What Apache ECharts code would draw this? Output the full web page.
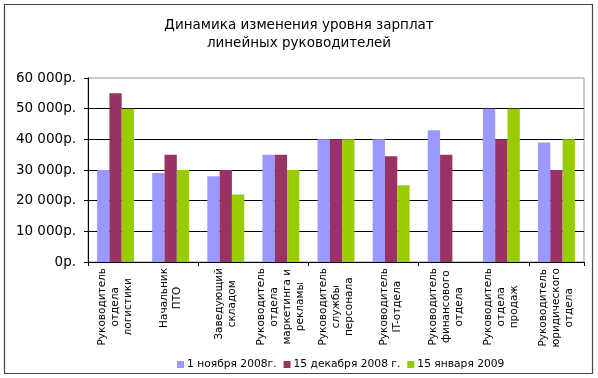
<!DOCTYPE html>
<html><head><meta charset="utf-8">
<script src="https://cdn.jsdelivr.net/npm/echarts@6/dist/echarts.min.js"></script>
<style>html,body{margin:0;padding:0;background:#fff}#c{width:598px;height:378px}</style>
</head><body><div id="c"></div>
<script>
const categories = [
  "Руководитель\nотдела\nлогистики",
  "Начальник\nПТО",
  "Заведующий\nскладом",
  "Руководитель\nотдела\nмаркетинга и\nрекламы",
  "Руководитель\nслужбы\nперсонала",
  "Руководитель\nIT-отдела",
  "Руководитель\nфинансового\nотдела",
  "Руководитель\nотдела\nпродаж",
  "Руководитель\nюридического\nотдела"
];
const seriesNames = ["1 ноября 2008г.", "15 декабря 2008 г.", "15 января 2009"];
const nov2008 = [30000, 29000, 28000, 35000, 40000, 40000, 43000, 50000, 39000];
const dec2008 = [55000, 35000, 30000, 35000, 40000, 34500, 35000, 40000, 30000];
const jan2009 = [50000, 30000, 22000, 30000, 40000, 25000, null, 50000, 40000];
const yTickValues = [0, 10000, 20000, 30000, 40000, 50000, 60000];
const colors = ["#9999FF", "#993366", "#99CC00"];
const titleText = "Динамика изменения уровня зарплат\nлинейных руководителей";

const font = "'DejaVu Sans', Verdana, sans-serif";
const xFontSize = 10.5;
const xFont = xFontSize + "px 'DejaVu Sans', Verdana, sans-serif";
const ctx = document.createElement('canvas').getContext('2d');
ctx.font = xFont;
const labelWidths = categories.map(c => Math.max(...c.split('\n').map(s => ctx.measureText(s).width)));

const chart = echarts.init(document.getElementById('c'), null, {renderer: 'canvas'});
chart.setOption({
  animation: false,
  title: {
    text: titleText, left: 'center', top: 11,
    textStyle: {fontFamily: font, fontSize: 13.5, fontWeight: 'normal', color: '#000', lineHeight: 18}
  },
  graphic: [{type: 'rect', shape: {x: 4.5, y: 4.5, width: 588, height: 369}, style: {fill: 'none', stroke: '#444', lineWidth: 1.2}, silent: true, z: -1}],
  legend: {
    bottom: 3, left: 172, itemWidth: 7, itemHeight: 7, itemGap: 7,
    icon: 'rect',
    textStyle: {fontFamily: font, fontSize: 10.7, color: '#000', padding: [0,0,0,-2]},
    data: seriesNames
  },
  grid: {left: 88, right: 14, top: 78, bottom: 116, show: true, borderColor: '#999', borderWidth: 1},
  xAxis: {
    type: 'category', data: categories,
    axisLine: {lineStyle: {color: '#000'}},
    axisTick: {show: true, length: 4, lineStyle: {color: '#000'}},
    axisLabel: {show: false}
  },
  yAxis: {
    type: 'value', min: yTickValues[0], max: yTickValues[yTickValues.length - 1], interval: yTickValues[1] - yTickValues[0],
    axisLine: {show: true, lineStyle: {color: '#000'}},
    axisTick: {show: true, length: 4, lineStyle: {color: '#000'}},
    splitLine: {show: true, showMaxLine: false, lineStyle: {color: '#000'}},
    axisLabel: {fontFamily: font, fontSize: 13.5, color: '#000', margin: 12,
      formatter: v => (v === 0 ? '0' : (v/1000) + ' 000') + 'р.'}
  },
  series: [
    {name: seriesNames[0], type: 'bar', data: nov2008, itemStyle: {color: colors[0]}, barGap: '0%', barCategoryGap: '33%'},
    {name: seriesNames[1], type: 'bar', data: dec2008, itemStyle: {color: colors[1]}},
    {name: seriesNames[2], type: 'bar', data: jan2009, itemStyle: {color: colors[2]}},
    {
      name: 'labels', type: 'custom', silent: true, z: 10,
      data: categories.map((c, i) => [i, 0]),
      renderItem: function (params, api) {
        const p = api.coord([api.value(0), api.value(1)]);
        const i = params.dataIndex;
        return {
          type: 'text', x: p[0], y: p[1] + 6 + labelWidths[i] / 2, rotation: Math.PI / 2,
          style: {text: categories[i], font: xFont, fill: '#000', align: 'center', verticalAlign: 'middle', lineHeight: 13}
        };
      }
    }
  ]
});
</script></body></html>
